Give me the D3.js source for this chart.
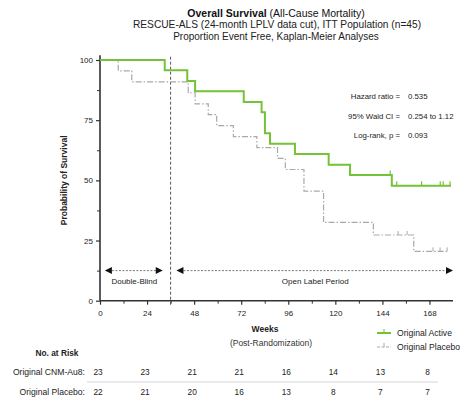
<!DOCTYPE html>
<html><head><meta charset="utf-8">
<script src="https://cdn.jsdelivr.net/npm/d3@7"></script>
<style>body{margin:0;background:#fff}svg{display:block;font-family:"Liberation Sans",Arial,sans-serif}</style>
</head><body>
<svg id="c" width="467" height="405"></svg>
<script>
const activeWeeks = [0, 33, 44.5, 48.5, 73.3, 82.4, 84.1, 86.7, 99.4, 116.6, 127.5, 148.8, 179];
const activeSurv  = [100, 95.7, 91.3, 87.0, 82.6, 78.3, 69.6, 65.2, 60.9, 56.5, 52.2, 47.8, 47.8];
const activeCensorWeeks = [148, 151.3, 164, 173.5, 175, 178.5];
const placeboWeeks = [0, 9.3, 16.2, 45, 48.5, 55.2, 59.5, 68, 80, 90.5, 94.5, 104, 114, 139.4, 160, 177];
const placeboSurv  = [100, 95.5, 90.9, 86.4, 81.8, 77.3, 72.7, 68.2, 63.6, 59.1, 54.5, 45.5, 32.5, 27.3, 20.5, 20.5];
const placeboCensorWeeks = [152, 156.6, 169.8, 173.4, 177];
const xTicks = [0, 24, 48, 72, 96, 120, 144, 168];
const yTicks = [0, 25, 50, 75, 100];
const riskActive = [23, 23, 21, 21, 16, 14, 13, 8];
const riskPlacebo = [22, 21, 20, 16, 13, 8, 7, 7];
const statLabels = ["Hazard ratio =", "95% Wald CI =", "Log-rank, p ="];
const statValues = ["0.535", "0.254 to 1.12", "0.093"];
const openLabelStart = 36;

const green = "#74c236", grey = "#a9a9a9", dark = "#333";
const svg = d3.select("#c");
const x = d3.scaleLinear().domain([0, 180]).range([100, 453]);
const y = d3.scaleLinear().domain([0, 100]).range([300.7, 60]);

// titles
const t = svg.append("text").attr("x", 276).attr("y", 17).attr("text-anchor", "middle").attr("font-size", 10.5).attr("fill", "#111");
t.append("tspan").attr("font-weight", "bold").text("Overall Survival");
t.append("tspan").text(" (All-Cause Mortality)");
svg.append("text").attr("x", 277).attr("y", 28).attr("text-anchor", "middle").attr("font-size", 10.2).attr("fill", "#222")
  .text("RESCUE-ALS (24-month LPLV data cut), ITT Population (n=45)");
svg.append("text").attr("x", 276).attr("y", 40).attr("text-anchor", "middle").attr("font-size", 10).attr("fill", "#222")
  .text("Proportion Event Free, Kaplan-Meier Analyses");

// axes
const xAxis = svg.append("g").attr("transform", `translate(0,${y(0)})`)
  .call(d3.axisBottom(x).tickValues(xTicks).tickSize(4).tickPadding(6));
xAxis.select(".domain").attr("stroke", dark).attr("stroke-width", 1.6).attr("d", `M${x(0)},0H${x(180)}`);
xAxis.selectAll("text").attr("font-size", 8).attr("fill", "#222").attr("font-family", "Liberation Sans, Arial");
xAxis.selectAll(".tick line").attr("stroke", dark).attr("stroke-width", 1.2);
svg.append("g").attr("transform", `translate(0,${y(0)})`)
  .call(d3.axisBottom(x).tickValues(d3.range(12, 180, 24)).tickSize(3).tickFormat(""))
  .call(g => g.select(".domain").remove()).selectAll("line").attr("stroke", dark);

const yAxis = svg.append("g").attr("transform", `translate(${x(0)},0)`)
  .call(d3.axisLeft(y).tickValues(yTicks).tickSize(4).tickPadding(3));
yAxis.select(".domain").attr("stroke", dark).attr("stroke-width", 1.6).attr("d", `M0,${y(0)}V${y(102)}`);
yAxis.selectAll("text").attr("font-size", 8).attr("fill", "#222").attr("font-family", "Liberation Sans, Arial");
yAxis.selectAll(".tick line").attr("stroke", dark).attr("stroke-width", 1.2);
svg.append("g").attr("transform", `translate(${x(0)},0)`)
  .call(d3.axisLeft(y).tickValues([12.5, 37.5, 62.5, 87.5]).tickSize(3).tickFormat(""))
  .call(g => g.select(".domain").remove()).selectAll("line").attr("stroke", dark);

svg.append("text").attr("transform", `translate(67,${y(50)}) rotate(-90)`).attr("text-anchor", "middle")
  .attr("font-size", 8.5).attr("font-weight", "bold").attr("fill", "#222").text("Probability of Survival");
svg.append("text").attr("x", 265).attr("y", 332).attr("text-anchor", "middle").attr("font-size", 8.5)
  .attr("font-weight", "bold").attr("fill", "#222").text("Weeks");
svg.append("text").attr("x", 271).attr("y", 346).attr("text-anchor", "middle").attr("font-size", 8.5)
  .attr("fill", "#333").text("(Post-Randomization)");

// vertical dashed line
svg.append("line").attr("x1", x(openLabelStart)).attr("x2", x(openLabelStart)).attr("y1", y(0) + 4).attr("y2", y(102))
  .attr("stroke", "#555").attr("stroke-width", 1).attr("stroke-dasharray", "3,2");

// period arrows
const arrowY = y(12.5);
function arrowHead(px, dir) {
  svg.append("path").attr("d", `M${px},${arrowY}l${-dir * 7},-3.5v7z`).attr("fill", "#111");
}
function period(a, b, label) {
  svg.append("line").attr("x1", x(a) + 6).attr("x2", x(b) - 6).attr("y1", arrowY).attr("y2", arrowY)
    .attr("stroke", "#555").attr("stroke-width", 0.8).attr("stroke-dasharray", "2,1.5");
  arrowHead(x(a) - 1, -1);
  arrowHead(x(b), 1);
  svg.append("text").attr("x", (x(a) + x(b)) / 2).attr("y", arrowY + 13).attr("text-anchor", "middle")
    .attr("font-size", 8).attr("fill", "#222").text(label);
}
period(3, 32, "Double-Blind");
period(39.5, 180, "Open Label Period");

// KM curves
const line = d3.line().curve(d3.curveStepAfter).x(d => x(d[0])).y(d => y(d[1]));
const placeboData = placeboWeeks.map((w, i) => [w, placeboSurv[i]]);
const activeData = activeWeeks.map((w, i) => [w, activeSurv[i]]);
svg.append("path").attr("d", line(placeboData)).attr("fill", "none").attr("stroke", grey)
  .attr("stroke-width", 1.2).attr("stroke-dasharray", "6,2,1.5,2");
function survAt(weeks, surv, w) { let v = surv[0]; weeks.forEach((t, i) => { if (t <= w) v = surv[i]; }); return v; }
svg.selectAll(".pc").data(placeboCensorWeeks).join("line")
  .attr("x1", d => x(d)).attr("x2", d => x(d))
  .attr("y1", d => y(survAt(placeboWeeks, placeboSurv, d))).attr("y2", d => y(survAt(placeboWeeks, placeboSurv, d)) - 4)
  .attr("stroke", grey).attr("stroke-width", 1);
svg.append("path").attr("d", line(activeData)).attr("fill", "none").attr("stroke", green).attr("stroke-width", 2);
svg.selectAll(".ac").data(activeCensorWeeks).join("line")
  .attr("x1", d => x(d)).attr("x2", d => x(d))
  .attr("y1", d => y(survAt(activeWeeks, activeSurv, d))).attr("y2", d => y(survAt(activeWeeks, activeSurv, d)) - 4.5)
  .attr("stroke", green).attr("stroke-width", 1.2);

// stats
statLabels.forEach((s, i) => {
  const yy = 99 + i * 19.5;
  svg.append("text").attr("x", 400).attr("y", yy).attr("text-anchor", "end").attr("font-size", 7.8).attr("fill", "#222").text(s);
  svg.append("text").attr("x", 408).attr("y", yy).attr("font-size", 7.8).attr("fill", "#222").text(statValues[i]);
});

// legend
const legendItems = [["Original Active", green, null, 2], ["Original Placebo", grey, "3,1.5", 1.2]];
legendItems.forEach((d, i) => {
  const ly = 333 + i * 14;
  svg.append("line").attr("x1", 377).attr("x2", 391).attr("y1", ly).attr("y2", ly).attr("stroke", d[1])
    .attr("stroke-width", d[3]).attr("stroke-dasharray", d[2]);
  svg.append("line").attr("x1", 384).attr("x2", 384).attr("y1", ly).attr("y2", ly - 4).attr("stroke", d[1]).attr("stroke-width", 1);
  svg.append("text").attr("x", 397).attr("y", ly + 3).attr("font-size", 8.6).attr("fill", "#222").text(d[0]);
});

// number at risk
svg.append("text").attr("x", 57).attr("y", 356).attr("text-anchor", "middle").attr("font-size", 8.3)
  .attr("font-weight", "bold").attr("fill", "#222").text("No. at Risk");
const rows = [["Original CNM-Au8:", riskActive, 375], ["Original Placebo:", riskPlacebo, 395]];
rows.forEach(r => {
  svg.append("text").attr("x", 85).attr("y", r[2]).attr("text-anchor", "end").attr("font-size", 8.6).attr("fill", "#222").text(r[0]);
  svg.selectAll(null).data(r[1]).join("text").attr("x", (d, i) => x(xTicks[i]) - 2).attr("y", r[2])
    .attr("text-anchor", "middle").attr("font-size", 8.3).attr("fill", "#222").text(d => d);
});
svg.append("line").attr("x1", 87).attr("x2", 438).attr("y1", 382).attr("y2", 382).attr("stroke", "#ccc").attr("stroke-width", 0.8);
</script>
</body></html>
